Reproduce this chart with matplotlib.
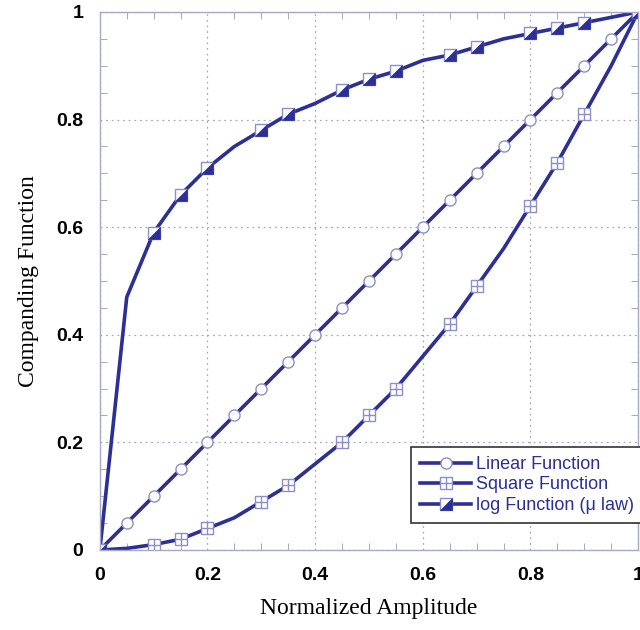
import matplotlib.pyplot as plt
from matplotlib.path import Path
from matplotlib.legend_handler import HandlerTuple
from matplotlib.ticker import MultipleLocator

# amplitude samples (every 0.05)
amp = [0, 0.05, 0.1, 0.15, 0.2, 0.25, 0.3, 0.35, 0.4, 0.45, 0.5,
       0.55, 0.6, 0.65, 0.7, 0.75, 0.8, 0.85, 0.9, 0.95, 1.0]
linear = [0, 0.05, 0.1, 0.15, 0.2, 0.25, 0.3, 0.35, 0.4, 0.45, 0.5,
          0.55, 0.6, 0.65, 0.7, 0.75, 0.8, 0.85, 0.9, 0.95, 1.0]
square = [0, 0.003, 0.01, 0.02, 0.04, 0.06, 0.09, 0.12, 0.16, 0.2, 0.25,
          0.3, 0.36, 0.42, 0.49, 0.56, 0.64, 0.72, 0.81, 0.9, 1.0]
mulaw = [0, 0.47, 0.59, 0.66, 0.71, 0.75, 0.78, 0.81, 0.83, 0.855, 0.875,
         0.89, 0.91, 0.92, 0.935, 0.95, 0.96, 0.97, 0.98, 0.99, 1.0]
labels = ['Linear Function', 'Square Function', 'log Function (\u03bc law)']
ticks = [0, 0.2, 0.4, 0.6, 0.8, 1.0]
tick_labels = ['0', '0.2', '0.4', '0.6', '0.8', '1']
marked = [0, 2, 3, 4, 6, 7, 9, 10, 11, 13, 14, 16, 17, 18, 20]

blue = '#2b2f96'
edge = '#8c8fc8'

# lower-right half triangle for the log marker
tri = Path([(1, 1), (1, -1), (-1, -1), (1, 1)],
           [Path.MOVETO, Path.LINETO, Path.LINETO, Path.CLOSEPOLY])

fig = plt.figure(figsize=(6.4, 6.3), dpi=100)
ax = fig.add_axes([0.156, 0.127, 0.841, 0.854])

l1, = ax.plot(amp, linear, color=blue, lw=2.6, marker='o', ms=8,
              mfc='white', mec=edge, mew=1.0, markevery=list(range(1, 21)))
l2, = ax.plot(amp, square, color=blue, lw=2.6, marker='s', ms=8,
              mfc='white', mec=edge, mew=1.0, markevery=marked)
p2, = ax.plot([amp[i] for i in marked], [square[i] for i in marked],
              ls='none', marker='+', ms=8, mec=edge, mew=1.0)
l3, = ax.plot(amp, mulaw, color=blue, lw=2.6, marker='s', ms=8,
              mfc='white', mec=edge, mew=1.0, markevery=marked)
p3, = ax.plot([amp[i] for i in marked], [mulaw[i] for i in marked],
              ls='none', marker=tri, ms=8, mfc=blue, mec=blue, mew=0.5)

ax.set_xlim(0, 1)
ax.set_ylim(0, 1)
ax.set_xticks(ticks, tick_labels)
ax.set_yticks(ticks, tick_labels)
ax.xaxis.set_minor_locator(MultipleLocator(0.05))
ax.yaxis.set_minor_locator(MultipleLocator(0.05))
ax.tick_params(which='both', direction='in', top=True, right=True,
               color='#9a9ab8')
ax.tick_params(which='major', length=0)
ax.tick_params(axis='x', which='major', pad=12)
ax.tick_params(axis='y', which='major', pad=12)
ax.tick_params(which='minor', length=5)
for t in ax.get_xticklabels() + ax.get_yticklabels():
    t.set_fontfamily('Liberation Sans')
    t.set_fontweight('bold')
    t.set_fontsize(14)
ax.grid(True, which='major', ls=(0, (1.5, 3)), color='#a8a8c0', lw=0.9)
for s in ax.spines.values():
    s.set_color('#a8a8c8')
    s.set_linewidth(1.0)

ax.set_xlabel('Normalized Amplitude', family='Liberation Serif',
              fontsize=17, labelpad=10)
ax.set_ylabel('Companding Function', family='Liberation Serif',
              fontsize=17, labelpad=12)

leg = ax.legend([(l1,), (l2, p2), (l3, p3)], labels,
                handler_map={tuple: HandlerTuple(ndivide=1)},
                loc='lower right', bbox_to_anchor=(1.01, 0.05),
                prop={'family': 'Liberation Sans', 'size': 13},
                labelcolor=blue, fancybox=False, edgecolor='#333333',
                framealpha=1, borderpad=0.5, handlelength=2.8,
                handletextpad=0.3, labelspacing=0.2, borderaxespad=0)
leg.get_frame().set_linewidth(1.2)

fig.savefig('out.png', dpi=100)
